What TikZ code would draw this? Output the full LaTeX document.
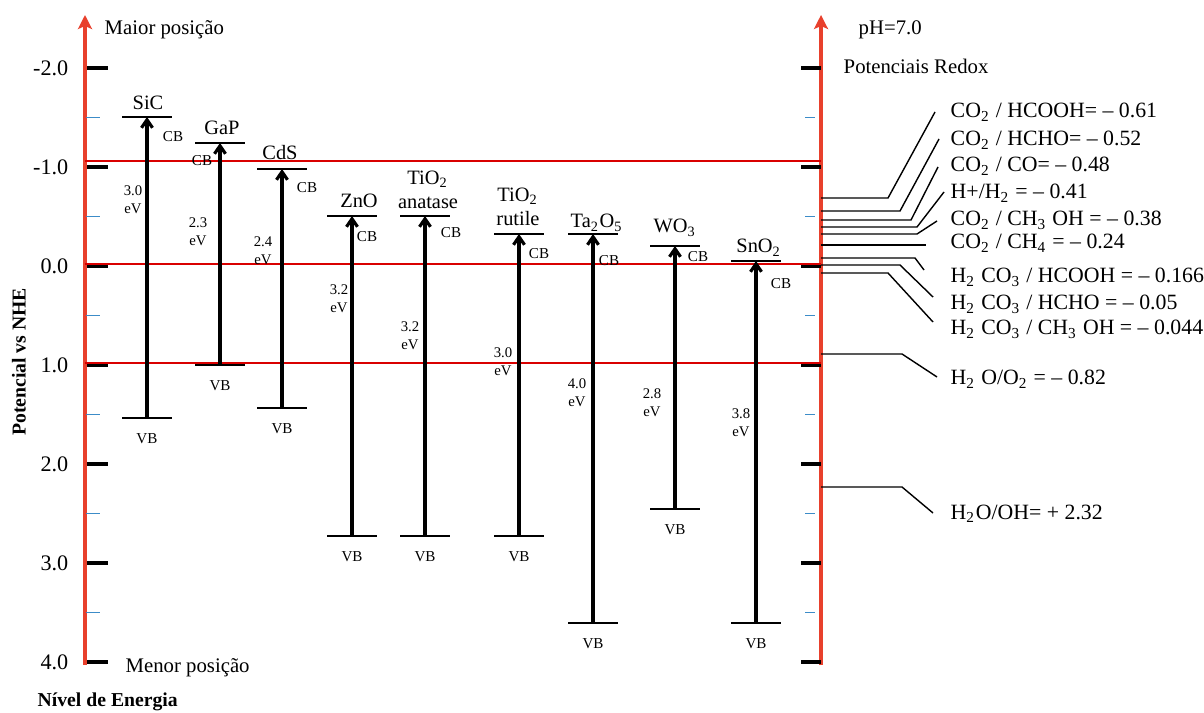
\documentclass[tikz,border=0pt]{standalone}
\usepackage{fontspec}
\setmainfont{Liberation Serif}
\usetikzlibrary{arrows.meta}
\definecolor{axred}{RGB}{232,64,44}
\definecolor{tickblue}{RGB}{60,140,200}

\begin{document}
\begin{tikzpicture}[x=0.01cm,y=-0.01cm,
      axisline/.style={line width=0.95pt,axred,
                       -{Stealth[length=0.14cm,width=0.14cm,inset=0.03cm]}},
      level/.style={red!85!black,line width=0.3pt},
      bigtick/.style={line width=1.2pt},
      smalltick/.style={tickblue,line width=0.5pt},
      band/.style={line width=0.55pt},
      gaparr/.style={line width=0.9pt,-{Straight Barb[length=0.08cm,width=0.11cm]}},
      lead/.style={line width=0.4pt},
      num/.style={font=\fontsize{6.3}{7}\selectfont,anchor=east,inner sep=0pt},
      mat/.style={font=\fontsize{5.8}{7}\selectfont,align=center,inner sep=0pt},
      bandlbl/.style={font=\fontsize{4.3}{5}\selectfont,inner sep=0pt},
      gapl/.style={font=\fontsize{4.2}{5.1}\selectfont,align=center,inner sep=0pt},
      redox/.style={font=\fontsize{6.2}{7}\selectfont,anchor=base west,inner sep=0pt},
      side/.style={font=\fontsize{5.9}{7}\selectfont,anchor=base west,inner sep=0pt},
  ]
  \useasboundingbox (0,0) rectangle (1204,713);

  %--- axes ---
  \draw[axisline] (85,665) -- (85,15);
  \draw[axisline] (821,665) -- (821,15);

  \foreach \v in {-2,...,4} {
    \draw[bigtick] (87,{266+99*\v}) -- (108,{266+99*\v});
    \draw[bigtick] (801,{266+99*\v}) -- (821,{266+99*\v});
    \node[num] (n\v) at (69,{266+99*\v}) {\v.0};
  }
  \foreach \v in {-1.5,-0.5,0.5,1.5,2.5,3.5} {
    \draw[smalltick] (86,{266+99*\v}) -- (100,{266+99*\v});
    \draw[smalltick] (805,{266+99*\v}) -- (815,{266+99*\v});
  }

  % reference levels
  \foreach \y in {161,264,363}
    \draw[level] (85,\y) -- (821,\y);

  \node[side] (top) at (104,35) {Maior posição};
  \node[side] (bottom) at (125,672) {Menor posição};
  \node[side,font=\fontsize{5.6}{7}\selectfont\bfseries] (xlab) at (37,706) {Nível de Energia};
  \node[font=\fontsize{5.6}{7}\selectfont\bfseries,rotate=90,inner sep=0pt] (ylab) at (19,362) {Potencial vs NHE};

  %--- band edges ---
  \foreach \n/\x/\cb/\vb/\cx/\cy/\gx/\gy/\g in {
      sic/147/117/418/173/137/133/200/3.0,
      gap/220/143/365/202/161/198/232/2.3,
      cds/282/169/408/307/188/263/251/2.4,
      zno/352/216/536/367/237/339/299/3.2,
      ana/425/216/536/451/233/410/336/3.2,
      rut/519/234/536/539/254/503/362/3.0,
      ta/593/234/623/609/261/577/393/4.0,
      wo/675/246/509/698/257/652/403/2.8,
      sno/756/261/623/781/284/741/423/3.8} {
    \coordinate (\n-cb) at (\x,\cb);
    \coordinate (\n-vb) at (\x,\vb);
    \draw[band] ({\x-25},\cb) -- ({\x+25},\cb);
    \draw[band] ({\x-25},\vb) -- ({\x+25},\vb);
    \draw[gaparr] (\n-vb) -- (\n-cb);
    \node[bandlbl] (\n-cbl) at (\cx,\cy) {CB};
    \node[bandlbl] (\n-vbl) at (\x,{\vb+21}) {VB};
    \node[gapl] (\n-eg) at (\gx,\gy) {\g\\eV};
  }

  \node[mat] (sic-name) at (148,103) {SiC};
  \node[mat] (gap-name) at (222,128) {GaP};
  \node[mat] (cds-name) at (280,153) {CdS};
  \node[mat] (zno-name) at (359,201) {ZnO};
  \node[mat] (ana-name) at (428,190) {TiO\textsubscript{2}\\anatase};
  \node[mat] (rut-name) at (518,207) {TiO\textsubscript{2}\\rutile};
  \node[mat] (ta-name) at (597,223) {Ta\textsubscript{2}O\textsubscript{5}};
  \node[mat] (wo-name) at (675,228) {WO\textsubscript{3}};
  \node[mat] (sno-name) at (759,248) {SnO\textsubscript{2}};

  %--- redox potentials ---
  \node[side] (ph) at (858,35) {pH=7.0};
  \node[side] (pot) at (843,74) {Potenciais Redox};

  \foreach \y/\kx/\ex/\ey in {198/888/935/112, 211/900/939/139, 220/911/938/167,
      227/917/944/192, 234/917/937/221, 245/926/926/245, 258/915/924/270,
      265/900/933/297, 273/888/933/322, 354/902/937/377, 487/902/933/513}
    \draw[lead] (821,\y) -- (\kx,\y) -- (\ex,\ey);

  \node[redox] (r1) at (950,118) {CO\textsubscript{2} / HCOOH= – 0.61};
  \node[redox] (r2) at (950,146) {CO\textsubscript{2} / HCHO= – 0.52};
  \node[redox] (r3) at (950,172) {CO\textsubscript{2} / CO= – 0.48};
  \node[redox] (r4) at (950,199) {H+/H\textsubscript{2} = – 0.41};
  \node[redox] (r5) at (950,226) {CO\textsubscript{2} / CH\textsubscript{3} OH = – 0.38};
  \node[redox] (r6) at (950,249) {CO\textsubscript{2} / CH\textsubscript{4} = – 0.24};
  \node[redox] (r7) at (950,283) {H\textsubscript{2} CO\textsubscript{3} / HCOOH = – 0.166};
  \node[redox] (r8) at (950,310) {H\textsubscript{2} CO\textsubscript{3} / HCHO = – 0.05};
  \node[redox] (r9) at (950,335) {H\textsubscript{2} CO\textsubscript{3} / CH\textsubscript{3} OH = – 0.044};
  \node[redox] (r10) at (950,385) {H\textsubscript{2} O/O\textsubscript{2} = – 0.82};
  \node[redox] (r11) at (950,519) {H\textsubscript{2}O/OH= + 2.32};
\end{tikzpicture}
\end{document}
